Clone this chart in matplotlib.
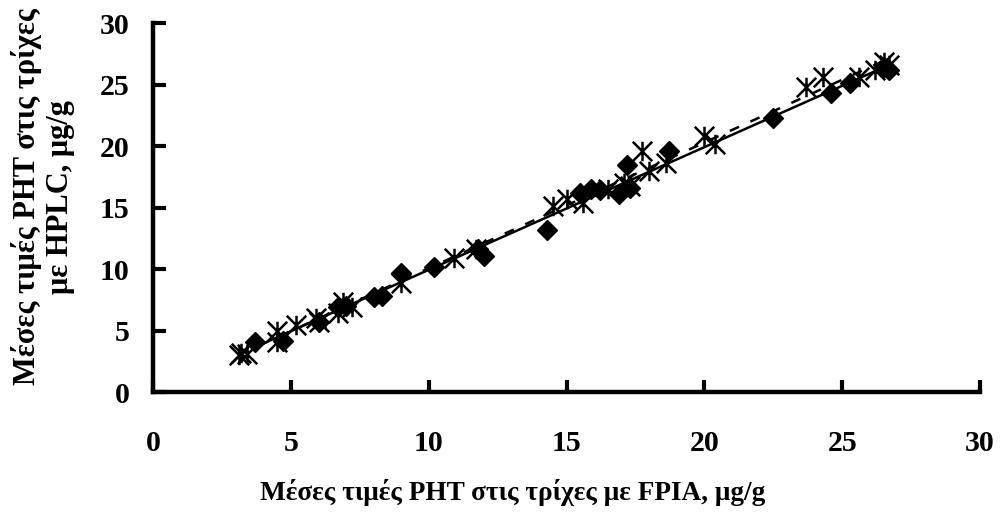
import numpy as np
import matplotlib.pyplot as plt
from matplotlib.path import Path

# FPIA vs HPLC mean PHT values in hair (ug/g), two sample groups
fpia_a = [3.7, 4.7, 6.0, 6.7, 7.0, 8.0, 8.3, 9.0, 10.2, 11.8, 12.0, 14.3,
          15.5, 15.9, 16.2, 16.9, 17.3, 17.2, 18.7, 22.5, 24.6, 25.3, 26.5, 26.7]
hplc_a = [4.1, 4.2, 5.7, 6.9, 7.0, 7.7, 7.8, 9.7, 10.2, 11.6, 11.1, 13.2,
          16.2, 16.5, 16.4, 16.1, 16.6, 18.5, 19.6, 22.3, 24.3, 25.1, 26.4, 26.2]

fpia_b = [3.1, 3.4, 3.2, 4.5, 4.5, 5.2, 5.9, 6.0, 6.7, 6.9, 7.2, 9.0, 10.9,
          11.7, 14.5, 15.0, 15.6, 16.5, 17.1, 17.3, 17.75, 18.0, 18.6, 20.0,
          20.4, 23.7, 24.3, 25.6, 26.2, 26.5, 26.7]
hplc_b = [3.0, 3.1, 3.2, 5.0, 4.1, 5.5, 6.0, 5.7, 6.4, 7.3, 6.9, 8.9, 10.9,
          11.6, 15.1, 15.7, 15.4, 16.5, 17.0, 16.8, 19.6, 18.0, 18.6, 20.8,
          20.2, 24.8, 25.6, 25.6, 26.2, 26.8, 26.6]

x_ticks = [0, 5, 10, 15, 20, 25, 30]
y_ticks = [0, 5, 10, 15, 20, 25, 30]

plt.rcParams['font.family'] = ['Liberation Serif', 'DejaVu Serif']
plt.rcParams['font.weight'] = 'bold'

# asterisk marker: vertical bar plus an X
star = Path([(0, -1), (0, 1), (-1, -1), (1, 1), (-1, 1), (1, -1)],
            [Path.MOVETO, Path.LINETO, Path.MOVETO, Path.LINETO,
             Path.MOVETO, Path.LINETO])

fig = plt.figure(figsize=(10.01, 5.14), dpi=100)
ax = fig.add_axes([0.153, 0.237, 0.826, 0.718])

ax.plot(fpia_a, hplc_a, linestyle='none', marker='D', markersize=10,
        color='black')
ax.plot(fpia_b, hplc_b, linestyle='none', marker=star, markersize=14,
        markeredgewidth=1.8, markerfacecolor='none', color='black')

# linear trendlines
for xs, ys, ls in [(fpia_a, hplc_a, '-'), (fpia_b, hplc_b, (0, (4, 5)))]:
    k, b = np.polyfit(xs, ys, 1)
    xx = np.array([min(xs), max(xs)])
    ax.plot(xx, k * xx + b, color='black', linewidth=1.8, linestyle=ls)

ax.set_xlim(0, 30)
ax.set_ylim(0, 30)
ax.set_xticks(x_ticks)
ax.set_yticks(y_ticks)
ax.spines['top'].set_visible(False)
ax.spines['right'].set_visible(False)
for s in ['left', 'bottom']:
    ax.spines[s].set_linewidth(3.2)
ax.tick_params(direction='in', length=9, width=3, labelsize=21.5)
ax.tick_params(axis='x', pad=27)
ax.tick_params(axis='y', pad=17)

ax.set_xlabel('Μέσες τιμές PHT στις τρίχες με FPIA, μg/g', fontsize=19.6,
              fontweight='bold')
ax.xaxis.set_label_coords(0.435, -0.235)

fig.text(0.043, 0.617, 'Μέσες τιμές PHT στις τρίχες\nμε HPLC, μg/g',
         fontsize=22, fontweight='bold', rotation=90, ha='center',
         va='center', linespacing=1.2, multialignment='center')

fig.savefig('out.png', dpi=100)
